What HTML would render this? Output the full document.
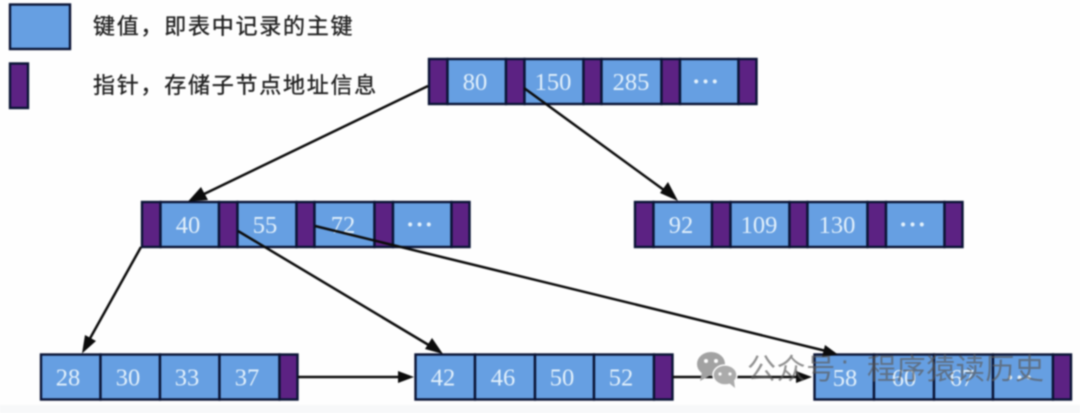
<!DOCTYPE html>
<html>
<head>
<meta charset="utf-8">
<style>
html,body{margin:0;padding:0;background:#fdfdfd;width:1080px;height:413px;overflow:hidden}
svg{display:block;filter:blur(0.7px)}
.k{fill:#669fe2;stroke:#0a1436;stroke-width:2.4}
.p{fill:#5c2283;stroke:#0a1436;stroke-width:2.4}
.t{font-family:"Liberation Serif",serif;font-size:24.5px;fill:#e2f0fb;text-anchor:middle}
.d{font-family:"Liberation Serif",serif;font-size:25px;font-weight:bold;fill:#e2f0fb;text-anchor:middle;letter-spacing:1px}
.c{font-family:"Liberation Sans","Noto Sans CJK SC",sans-serif;font-size:22px;fill:#222;stroke:#222;stroke-width:.35px;letter-spacing:1.75px}
.w{font-family:"Liberation Sans","Noto Sans CJK SC",sans-serif;font-size:29px;fill:#5c5c5c;fill-opacity:.68;letter-spacing:.6px}
.l{stroke:#0c0c0c;stroke-width:2.5;fill:none}
.h{fill:#0c0c0c}
</style>
</head>
<body>
<svg width="1080" height="413" viewBox="0 0 1080 413" xmlns="http://www.w3.org/2000/svg">
<rect x="0" y="0" width="1080" height="413" fill="#fefefe"/>
<rect x="0" y="405" width="1080" height="8" fill="#f7f8f9"/>

<!-- legend -->
<rect class="k" x="10" y="4.5" width="60" height="44.5"/>
<rect class="p" x="10" y="63.5" width="18" height="44.5"/>
<text class="c" x="93" y="34">键值，即表中记录的主键</text>
<text class="c" x="93" y="93">指针，存储子节点地址信息</text>

<!-- root -->
<g>
<rect class="p" x="429" y="59" width="18.5" height="45"/>
<rect class="k" x="447.5" y="59" width="58.5" height="45"/>
<rect class="p" x="506" y="59" width="18.5" height="45"/>
<rect class="k" x="524.5" y="59" width="59" height="45"/>
<rect class="p" x="583.5" y="59" width="18" height="45"/>
<rect class="k" x="601.5" y="59" width="60" height="45"/>
<rect class="p" x="661.5" y="59" width="18.5" height="45"/>
<rect class="k" x="680" y="59" width="58.5" height="45"/>
<rect class="p" x="738.5" y="59" width="18" height="45"/>
<text class="t" x="475" y="90">80</text>
<text class="t" x="553" y="90">150</text>
<text class="t" x="631" y="90">285</text>
<text class="d" x="706" y="90">···</text>
</g>

<!-- level 2 left -->
<g>
<rect class="p" x="142" y="202" width="18.5" height="45"/>
<rect class="k" x="160.500" y="202" width="58.5" height="45"/>
<rect class="p" x="219" y="202" width="18.5" height="45"/>
<rect class="k" x="237.5" y="202" width="59" height="45"/>
<rect class="p" x="296.5" y="202" width="18" height="45"/>
<rect class="k" x="314.5" y="202" width="60" height="45"/>
<rect class="p" x="374.5" y="202" width="18.5" height="45"/>
<rect class="k" x="393" y="202" width="58.5" height="45"/>
<rect class="p" x="451.5" y="202" width="18" height="45"/>
<text class="t" x="188" y="233">40</text>
<text class="t" x="265" y="233">55</text>
<text class="t" x="343" y="233">72</text>
<text class="d" x="420" y="233">···</text>
</g>

<!-- level 2 right -->
<g>
<rect class="p" x="635" y="202" width="18.5" height="45"/>
<rect class="k" x="653.5" y="202" width="58.5" height="45"/>
<rect class="p" x="712" y="202" width="18.5" height="45"/>
<rect class="k" x="730.5" y="202" width="59" height="45"/>
<rect class="p" x="789.5" y="202" width="18" height="45"/>
<rect class="k" x="807.5" y="202" width="60" height="45"/>
<rect class="p" x="867.5" y="202" width="18.5" height="45"/>
<rect class="k" x="886" y="202" width="58.5" height="45"/>
<rect class="p" x="944.5" y="202" width="18" height="45"/>
<text class="t" x="681" y="233">92</text>
<text class="t" x="759" y="233">109</text>
<text class="t" x="837" y="233">130</text>
<text class="d" x="913" y="233">···</text>
</g>

<!-- leaf 1 -->
<g>
<rect class="k" x="41" y="354.5" width="59.5" height="45"/>
<rect class="k" x="100.5" y="354.5" width="59.5" height="45"/>
<rect class="k" x="160" y="354.5" width="59.5" height="45"/>
<rect class="k" x="219.5" y="354.5" width="60" height="45"/>
<rect class="p" x="279.5" y="354.5" width="18" height="45"/>
<text class="t" x="68" y="385.500">28</text>
<text class="t" x="128" y="385.500">30</text>
<text class="t" x="187" y="385.500">33</text>
<text class="t" x="247" y="385.500">37</text>
</g>

<!-- leaf 2 -->
<g>
<rect class="k" x="415.5" y="354.5" width="59.5" height="45"/>
<rect class="k" x="475" y="354.5" width="60" height="45"/>
<rect class="k" x="535" y="354.5" width="59" height="45"/>
<rect class="k" x="594" y="354.5" width="60" height="45"/>
<rect class="p" x="654" y="354.5" width="18.5" height="45"/>
<text class="t" x="443" y="385.500">42</text>
<text class="t" x="503" y="385.500">46</text>
<text class="t" x="562" y="385.500">50</text>
<text class="t" x="621" y="385.500">52</text>
</g>

<!-- leaf 3 -->
<g>
<rect class="k" x="814.5" y="354.5" width="59.5" height="45"/>
<rect class="k" x="874" y="354.5" width="60" height="45"/>
<rect class="k" x="934" y="354.5" width="59" height="45"/>
<rect class="k" x="993" y="354.5" width="60" height="45"/>
<rect class="p" x="1053" y="354.5" width="18" height="45"/>
<text class="t" x="845" y="386">58</text>
<text class="t" x="904" y="386">60</text>
<text class="t" x="962" y="386">67</text>
<text class="d" x="1020" y="386">···</text>
</g>

<!-- connectors -->
<line class="l" x1="428" y1="86" x2="200" y2="196"/>
<polygon class="h" points="188,201.5 201,187 208,200"/>
<line class="l" x1="524" y1="88" x2="668" y2="193"/>
<polygon class="h" points="678,201 660,193 668,182"/>
<line class="l" x1="141" y1="247" x2="88" y2="342"/>
<polygon class="h" points="82,353.5 85,335 96,341"/>
<line class="l" x1="238" y1="231" x2="432" y2="347"/>
<polygon class="h" points="443,354 425,349 432,338"/>
<line class="l" x1="315" y1="226" x2="826" y2="351"/>
<polygon class="h" points="838,354.5 822,357 825,345"/>
<line class="l" x1="298" y1="377" x2="402" y2="377"/>
<polygon class="h" points="414,377 398,371 398,383"/>
<line class="l" x1="673" y1="377" x2="800" y2="377"/>
<polygon class="h" points="812,377 796,371 796,383"/>

<!-- watermark -->
<g>
<ellipse cx="711" cy="364" rx="14" ry="12" fill="#a2a2a2"/>
<polygon points="702,372 700,381 711,375" fill="#a2a2a2"/>
<ellipse cx="725" cy="375" rx="12" ry="10" fill="#ababab" stroke="#fdfdfd" stroke-width="1.5"/>
<polygon points="729,383 735,388 734,380" fill="#ababab"/>
</g>
<g fill="#fdfdfd">
<circle cx="706" cy="361" r="2"/><circle cx="716" cy="361" r="2"/>
<circle cx="720" cy="374" r="1.6"/><circle cx="730" cy="374" r="1.6"/>
</g>
<text class="w" x="747" y="379">公众号</text>
<text class="w" x="840" y="370">·</text>
<text class="w" x="867" y="379">程序猿读历史</text>
</svg>
</body>
</html>
